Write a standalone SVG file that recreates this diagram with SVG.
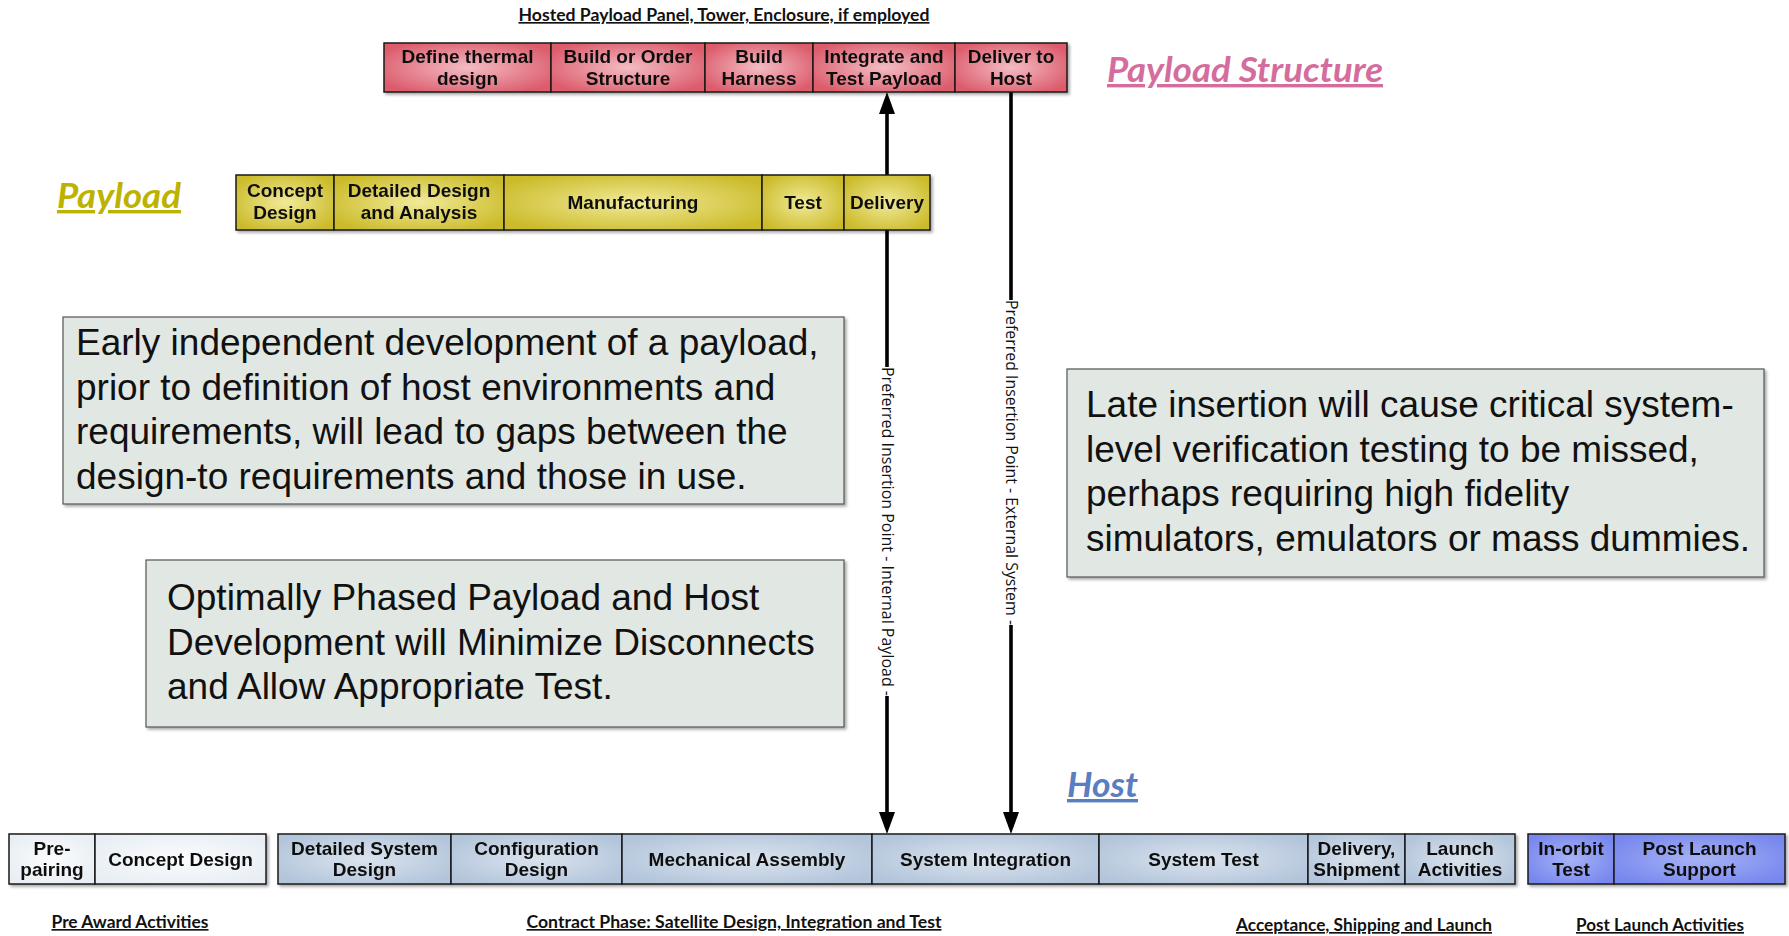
<svg xmlns="http://www.w3.org/2000/svg" width="1789" height="936" viewBox="0 0 1789 936">
<defs>
<radialGradient id="gRed" cx="0.5" cy="0.5" r="0.6"><stop offset="0" stop-color="#f3bcc4"/><stop offset="1" stop-color="#dc5b6b"/></radialGradient>
<radialGradient id="gYel" cx="0.5" cy="0.5" r="0.6"><stop offset="0" stop-color="#f1ea98"/><stop offset="1" stop-color="#cbbb2a"/></radialGradient>
<radialGradient id="gBlue" cx="0.5" cy="0.5" r="0.6"><stop offset="0" stop-color="#dae3ed"/><stop offset="1" stop-color="#b3c5db"/></radialGradient>
<radialGradient id="gWhite" cx="0.5" cy="0.5" r="0.6"><stop offset="0" stop-color="#fbfcfd"/><stop offset="1" stop-color="#e8eef4"/></radialGradient>
<radialGradient id="gPurp" cx="0.5" cy="0.5" r="0.6"><stop offset="0" stop-color="#a7b2f5"/><stop offset="1" stop-color="#7787ee"/></radialGradient>
<filter id="sh" x="-5%" y="-10%" width="110%" height="130%"><feDropShadow dx="2" dy="2" stdDeviation="1.5" flood-color="#000" flood-opacity="0.35"/></filter>
<marker id="ah" markerUnits="userSpaceOnUse" markerWidth="24" markerHeight="16" viewBox="0 0 24 16" refX="14" refY="8" orient="auto"><path d="M0,0 L22,8 L0,16 z" fill="#000"/></marker>
</defs>
<style>
.cell{stroke:#1a1a1a;stroke-width:1.5}
.red{fill:url(#gRed)}
.yel{fill:url(#gYel)}
.blu{fill:url(#gBlue)}
.wht{fill:url(#gWhite)}
.pur{fill:url(#gPurp)}
.bt{font-family:"Liberation Sans",Arial,sans-serif;font-weight:bold;font-size:19px;fill:#111;text-anchor:middle}
.note{fill:#e1e7e3;stroke:#555;stroke-width:1.2;filter:url(#sh)}
.nt{font-family:"Liberation Sans",Arial,sans-serif;font-size:37px;fill:#111}
.hdr{font-family:Lato,"Open Sans",sans-serif;font-weight:bold;font-size:16.5px;fill:#111;text-anchor:middle;text-decoration:underline}
.big{font-family:Lato,"Open Sans",sans-serif;font-weight:bold;font-style:italic;font-size:34px;text-decoration:underline}
.conn{stroke:#000;stroke-width:3.6;fill:none}
.lbl{font-family:"Open Sans","Noto Sans",sans-serif;font-size:16px;fill:#111;text-anchor:middle}
</style>

<g id="connectors">
<path class="conn" d="M887,367 L887,100" marker-end="url(#ah)"/>
<path class="conn" d="M887,696 L887,826" marker-end="url(#ah)"/>
<path class="conn" d="M1011,92 L1011,300"/>
<path class="conn" d="M1011,625 L1011,826" marker-end="url(#ah)"/>
<text class="lbl" transform="translate(887,531.5) rotate(90)" y="5" textLength="329" lengthAdjust="spacingAndGlyphs">Preferred Insertion Point - Internal Payload -</text>
<text class="lbl" transform="translate(1011,462.5) rotate(90)" y="5" textLength="325" lengthAdjust="spacingAndGlyphs">Preferred Insertion Point - External System -</text>
</g>

<g id="title-hosted">
<text class="hdr" x="724" y="21" textLength="411" lengthAdjust="spacingAndGlyphs">Hosted Payload Panel, Tower, Enclosure, if employed</text>
</g>

<g id="payload-structure-bar" filter="url(#sh)">
<g id="ps-thermal"><rect class="cell red" x="384" y="43" width="167" height="49"/><text class="bt" x="467.5" y="62.5">Define thermal<tspan x="467.5" y="84.5">design</tspan></text></g>
<g id="ps-structure"><rect class="cell red" x="551" y="43" width="154" height="49"/><text class="bt" x="628" y="62.5">Build or Order<tspan x="628" y="84.5">Structure</tspan></text></g>
<g id="ps-harness"><rect class="cell red" x="705" y="43" width="108" height="49"/><text class="bt" x="759" y="62.5">Build<tspan x="759" y="84.5">Harness</tspan></text></g>
<g id="ps-integrate"><rect class="cell red" x="813" y="43" width="142" height="49"/><text class="bt" x="884" y="62.5">Integrate and<tspan x="884" y="84.5">Test Payload</tspan></text></g>
<g id="ps-deliver"><rect class="cell red" x="955" y="43" width="112" height="49"/><text class="bt" x="1011" y="62.5">Deliver to<tspan x="1011" y="84.5">Host</tspan></text></g>
</g>

<g id="label-payload-structure">
<text class="big" x="1107" y="82" fill="#d46d9d" textLength="276" lengthAdjust="spacingAndGlyphs">Payload Structure</text>
</g>

<g id="label-payload">
<text class="big" x="57" y="208" fill="#bdb200" textLength="124" lengthAdjust="spacingAndGlyphs">Payload</text>
</g>

<g id="payload-bar" filter="url(#sh)">
<g id="pl-concept"><rect class="cell yel" x="236" y="175" width="98" height="55"/><text class="bt" x="285" y="197">Concept<tspan x="285" y="219">Design</tspan></text></g>
<g id="pl-detailed"><rect class="cell yel" x="334" y="175" width="170" height="55"/><text class="bt" x="419" y="197">Detailed Design<tspan x="419" y="219">and Analysis</tspan></text></g>
<g id="pl-manufacturing"><rect class="cell yel" x="504" y="175" width="258" height="55"/><text class="bt" x="633" y="209">Manufacturing</text></g>
<g id="pl-test"><rect class="cell yel" x="762" y="175" width="82" height="55"/><text class="bt" x="803" y="209">Test</text></g>
<g id="pl-delivery"><rect class="cell yel" x="844" y="175" width="86" height="55"/><text class="bt" x="887" y="209">Delivery</text></g>
</g>

<g id="note-early">
<rect class="note" x="63" y="317" width="781" height="187"/>
<text class="nt" x="76" y="355">Early independent development of a payload,<tspan x="76" y="399.5">prior to definition of host environments and</tspan><tspan x="76" y="444">requirements, will lead to gaps between the</tspan><tspan x="76" y="488.5">design-to requirements and those in use.</tspan></text>
</g>

<g id="note-optimal">
<rect class="note" x="146" y="560" width="698" height="167"/>
<text class="nt" x="167" y="610">Optimally Phased Payload and Host<tspan x="167" y="654.5">Development will Minimize Disconnects</tspan><tspan x="167" y="699">and Allow Appropriate Test.</tspan></text>
</g>

<g id="note-late">
<rect class="note" x="1067" y="369" width="697" height="208"/>
<text class="nt" x="1086" y="417">Late insertion will cause critical system-<tspan x="1086" y="461.5">level verification testing to be missed,</tspan><tspan x="1086" y="506">perhaps requiring high fidelity</tspan><tspan x="1086" y="550.5">simulators, emulators or mass dummies.</tspan></text>
</g>

<g id="label-host">
<text class="big" x="1067" y="797" fill="#5a7ec0" textLength="71" lengthAdjust="spacingAndGlyphs">Host</text>
</g>

<g id="host-preaward" filter="url(#sh)">
<g id="h-prepairing"><rect class="cell wht" x="9" y="834" width="86" height="50"/><text class="bt" x="52" y="854.5">Pre-<tspan x="52" y="875.5">pairing</tspan></text></g>
<g id="h-concept"><rect class="cell wht" x="95" y="834" width="171" height="50"/><text class="bt" x="180.5" y="865.5">Concept Design</text></g>
</g>

<g id="host-contract" filter="url(#sh)">
<g id="h-detailed"><rect class="cell blu" x="278" y="834" width="173" height="50"/><text class="bt" x="364.5" y="854.5">Detailed System<tspan x="364.5" y="875.5">Design</tspan></text></g>
<g id="h-config"><rect class="cell blu" x="451" y="834" width="171" height="50"/><text class="bt" x="536.5" y="854.5">Configuration<tspan x="536.5" y="875.5">Design</tspan></text></g>
<g id="h-mech"><rect class="cell blu" x="622" y="834" width="250" height="50"/><text class="bt" x="747" y="865.5">Mechanical Assembly</text></g>
<g id="h-sysint"><rect class="cell blu" x="872" y="834" width="227" height="50"/><text class="bt" x="985.5" y="865.5">System Integration</text></g>
<g id="h-systest"><rect class="cell blu" x="1099" y="834" width="209" height="50"/><text class="bt" x="1203.5" y="865.5">System Test</text></g>
<g id="h-delivery"><rect class="cell blu" x="1308" y="834" width="97" height="50"/><text class="bt" x="1356.5" y="854.5">Delivery,<tspan x="1356.5" y="875.5">Shipment</tspan></text></g>
<g id="h-launch"><rect class="cell blu" x="1405" y="834" width="110" height="50"/><text class="bt" x="1460" y="854.5">Launch<tspan x="1460" y="875.5">Activities</tspan></text></g>
</g>

<g id="host-postlaunch" filter="url(#sh)">
<g id="h-inorbit"><rect class="cell pur" x="1528" y="834" width="86" height="50"/><text class="bt" x="1571" y="854.5">In-orbit<tspan x="1571" y="875.5">Test</tspan></text></g>
<g id="h-support"><rect class="cell pur" x="1614" y="834" width="171" height="50"/><text class="bt" x="1699.5" y="854.5">Post Launch<tspan x="1699.5" y="875.5">Support</tspan></text></g>
</g>

<g id="phase-labels">
<text class="hdr" x="130" y="928" textLength="157" lengthAdjust="spacingAndGlyphs">Pre Award Activities</text>
<text class="hdr" x="734" y="928" textLength="415" lengthAdjust="spacingAndGlyphs">Contract Phase:  Satellite Design, Integration and Test</text>
<text class="hdr" x="1364" y="931" textLength="256" lengthAdjust="spacingAndGlyphs">Acceptance, Shipping and Launch</text>
<text class="hdr" x="1660" y="931" textLength="168" lengthAdjust="spacingAndGlyphs">Post Launch Activities</text>
</g>
</svg>
